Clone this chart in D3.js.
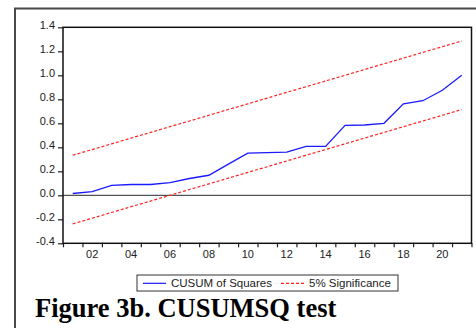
<!DOCTYPE html>
<html>
<head>
<meta charset="utf-8">
<script src="https://cdn.jsdelivr.net/npm/d3@7"></script>
<style>
  body { margin: 0; background: #fff; }
  svg { display: block; }
</style>
</head>
<body>
<div id="chart"></div>
<script>
// data
const years = [2001, 2002, 2003, 2004, 2005, 2006, 2007, 2008, 2009, 2010, 2011,
  2012, 2013, 2014, 2015, 2016, 2017, 2018, 2019, 2020, 2021];
const cusumSq = [0.015, 0.03, 0.083, 0.09, 0.09, 0.105, 0.14, 0.167, 0.26, 0.352, 0.355,
  0.36, 0.408, 0.408, 0.583, 0.586, 0.6, 0.763, 0.788, 0.875, 1.0];
const upper = [0.334, 0.381, 0.429, 0.477, 0.524, 0.572, 0.619, 0.667, 0.715, 0.762, 0.81,
  0.858, 0.905, 0.953, 1.0, 1.048, 1.096, 1.143, 1.191, 1.238, 1.286];
const lower = [-0.238, -0.191, -0.143, -0.095, -0.048, 0.0, 0.048, 0.095, 0.143, 0.191, 0.238,
  0.286, 0.334, 0.381, 0.429, 0.477, 0.524, 0.572, 0.619, 0.667, 0.715];
const yTicks = [-0.4, -0.2, 0.0, 0.2, 0.4, 0.6, 0.8, 1.0, 1.2, 1.4];
const xLabelYears = [2002, 2004, 2006, 2008, 2010, 2012, 2014, 2016, 2018, 2020];
const legendLabels = ['CUSUM of Squares', '5% Significance'];
const title = 'Figure 3b. CUSUMSQ test';

const W = 476, H = 328;
const plot = { left: 63, top: 27.3, right: 471.5, bottom: 243.3 };
const sansFont = '"Liberation Sans", Arial, sans-serif';

const svg = d3.select('#chart').append('svg')
  .attr('width', W)
  .attr('height', H);

// outer frame (cut off at right and bottom)
svg.append('path')
  .attr('d', `M15,${H + 2} L15,8.5 L${W + 2},8.5`)
  .attr('fill', 'none')
  .attr('stroke', '#4a4a4a')
  .attr('stroke-width', 2);

// scales
const x = d3.scaleLinear()
  .domain([years[0] - 0.5, years[years.length - 1] + 0.5])
  .range([plot.left, plot.right]);

const y = d3.scaleLinear()
  .domain([-0.4, 1.4])
  .range([plot.bottom, plot.top]);

// zero line
svg.append('line')
  .attr('x1', plot.left)
  .attr('x2', plot.right)
  .attr('y1', y(0))
  .attr('y2', y(0))
  .attr('stroke', '#555')
  .attr('stroke-width', 1.3);

// lines
const line = d3.line()
  .x((d, i) => x(years[i]))
  .y((d) => y(d));

svg.append('path')
  .datum(upper)
  .attr('fill', 'none')
  .attr('stroke', '#ff2020')
  .attr('stroke-width', 1.2)
  .attr('stroke-dasharray', '3,2')
  .attr('d', line);

svg.append('path')
  .datum(lower)
  .attr('fill', 'none')
  .attr('stroke', '#ff2020')
  .attr('stroke-width', 1.2)
  .attr('stroke-dasharray', '3,2')
  .attr('d', line);

svg.append('path')
  .datum(cusumSq)
  .attr('fill', 'none')
  .attr('stroke', '#1a1aff')
  .attr('stroke-width', 1.3)
  .attr('d', line);

// y axis
const yAxis = svg.append('g')
  .attr('transform', `translate(${plot.left},0)`)
  .call(d3.axisLeft(y).tickValues(yTicks).tickSize(5).tickPadding(3)
    .tickFormat((d) => d.toFixed(1)));
yAxis.select('.domain').remove();
yAxis.selectAll('line').attr('stroke', '#222').attr('stroke-width', 1.2);
yAxis.selectAll('text')
  .attr('font-family', sansFont)
  .attr('font-size', '11px')
  .attr('fill', '#222')
  .attr('dy', '0.1em');

// x axis: ticks at period boundaries, labels at even years
const xBounds = years.map((d) => d - 0.5).concat([years[years.length - 1] + 0.5]);
const xAxis = svg.append('g')
  .attr('transform', `translate(0,${plot.bottom})`)
  .call(d3.axisBottom(x).tickValues(xBounds).tickSize(4).tickFormat(''));
xAxis.select('.domain').remove();
xAxis.selectAll('line').attr('stroke', '#222').attr('stroke-width', 1.2);

svg.append('g')
  .selectAll('text')
  .data(xLabelYears)
  .enter()
  .append('text')
  .attr('x', (d) => x(d))
  .attr('y', plot.bottom + 14.5)
  .attr('text-anchor', 'middle')
  .attr('font-family', sansFont)
  .attr('font-size', '11px')
  .attr('fill', '#222')
  .text((d) => String(d % 100).padStart(2, '0'));

// plot frame
svg.append('rect')
  .attr('x', plot.left)
  .attr('y', plot.top)
  .attr('width', plot.right - plot.left)
  .attr('height', plot.bottom - plot.top)
  .attr('fill', 'none')
  .attr('stroke', '#111')
  .attr('stroke-width', 1.5);

// legend
const legend = svg.append('g');
legend.append('rect')
  .attr('x', 137)
  .attr('y', 275)
  .attr('width', 261)
  .attr('height', 16)
  .attr('fill', '#fff')
  .attr('stroke', '#333')
  .attr('stroke-width', 1);

const legendItems = [
  { label: legendLabels[0], x: 143, color: '#1a1aff', dash: null },
  { label: legendLabels[1], x: 281, color: '#ff2020', dash: '3,2' },
];
legendItems.forEach((d) => {
  legend.append('line')
    .attr('x1', d.x)
    .attr('x2', d.x + 23)
    .attr('y1', 283.3)
    .attr('y2', 283.3)
    .attr('stroke', d.color)
    .attr('stroke-width', 1.2)
    .attr('stroke-dasharray', d.dash);
  legend.append('text')
    .attr('x', d.x + 28)
    .attr('y', 287)
    .attr('font-family', sansFont)
    .attr('font-size', '11.5px')
    .attr('fill', '#222')
    .text(d.label);
});

// caption
svg.append('text')
  .attr('x', 35)
  .attr('y', 316.5)
  .attr('font-family', '"Liberation Serif", "Times New Roman", serif')
  .attr('font-weight', 'bold')
  .attr('font-size', '26.5px')
  .attr('fill', '#000')
  .text(title);
</script>
</body>
</html>
